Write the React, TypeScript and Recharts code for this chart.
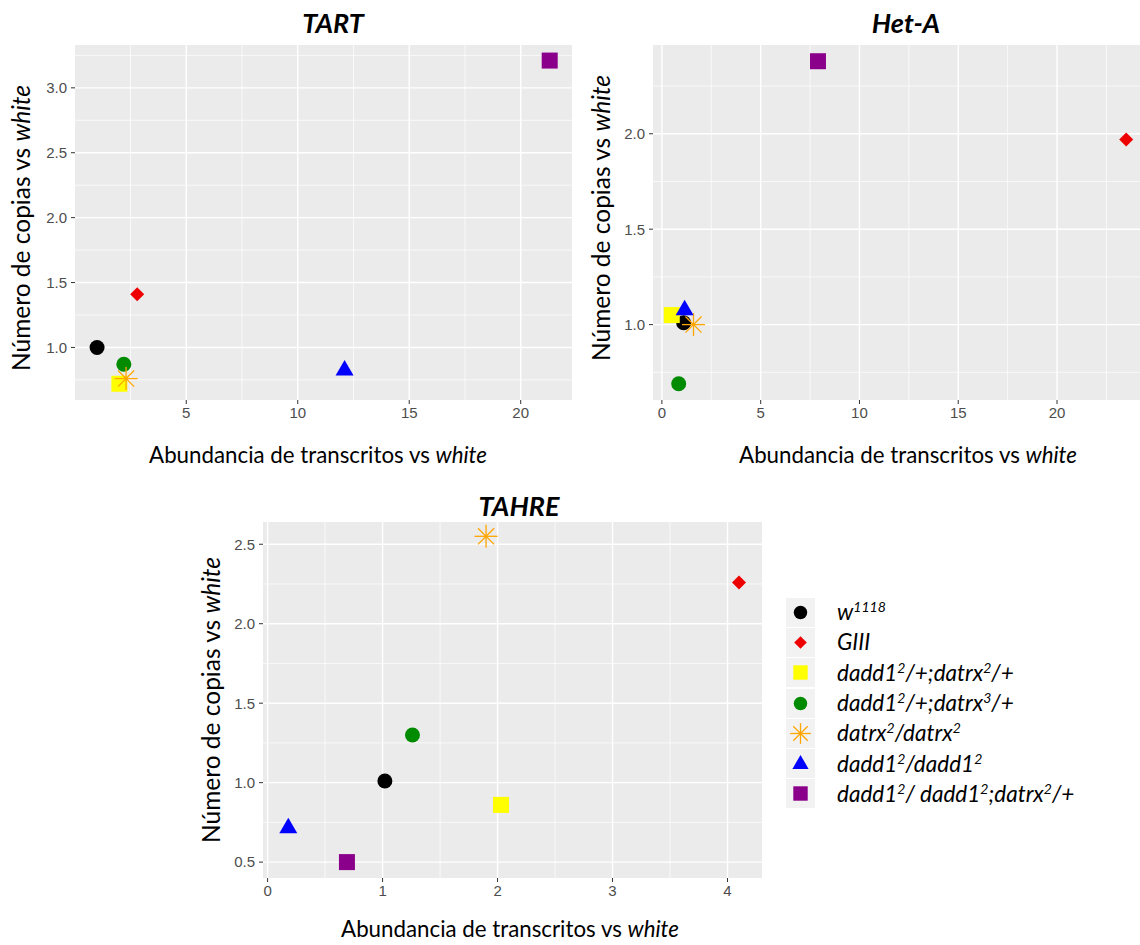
import { ScatterChart, Scatter, XAxis, YAxis, CartesianGrid } from "recharts";

// genotypes, in the order ggplot drew them
const genotypes = ["w1118", "GIII", "dadd1/+;datrx2/+", "dadd1/+;datrx3/+", "datrx2/datrx2", "dadd1/dadd1", "dadd1/dadd1;datrx2/+"];
const colors = ["#000000", "#EE0000", "#FFFF00", "#008B00", "#FFA500", "#0000FF", "#8B008B"];
const shapes = ["circle", "diamond", "square", "circle", "asterisk", "triangle", "square"];

// legend label pieces: [text, superscript]
const legendLabels: [string, boolean][][] = [
  [["w", false], ["1118", true]],
  [["GIII", false]],
  [["dadd1", false], ["2", true], ["/+;datrx", false], ["2", true], ["/+", false]],
  [["dadd1", false], ["2", true], ["/+;datrx", false], ["3", true], ["/+", false]],
  [["datrx", false], ["2", true], ["/datrx", false], ["2", true]],
  [["dadd1", false], ["2", true], ["/dadd1", false], ["2", true]],
  [["dadd1", false], ["2", true], ["/ dadd1", false], ["2", true], [";datrx", false], ["2", true], ["/+", false]],
];

// TART
const tartX = [1.0, 2.8, 2.0, 2.2, 2.3, 12.1, 21.3];
const tartY = [1.0, 1.41, 0.72, 0.87, 0.76, 0.83, 3.21];
const tartXTicks = [5, 10, 15, 20];
const tartXMinor = [2.5, 7.5, 12.5, 17.5];
const tartYTicks = [1.0, 1.5, 2.0, 2.5, 3.0];
const tartYMinor = [0.75, 1.25, 1.75, 2.25, 2.75, 3.25];

// Het-A
const hetX = [1.1, 23.5, 0.5, 0.85, 1.6, 1.15, 7.9];
const hetY = [1.01, 1.97, 1.05, 0.69, 1.0, 1.08, 2.38];
const hetXTicks = [0, 5, 10, 15, 20];
const hetXMinor = [2.5, 7.5, 12.5, 17.5, 22.5];
const hetYTicks = [1.0, 1.5, 2.0];
const hetYMinor = [0.75, 1.25, 1.75, 2.25];

// TAHRE
const tahreX = [1.02, 4.1, 2.03, 1.26, 1.9, 0.18, 0.69];
const tahreY = [1.01, 2.26, 0.86, 1.3, 2.55, 0.72, 0.5];
const tahreXTicks = [0, 1, 2, 3, 4];
const tahreXMinor = [0.5, 1.5, 2.5, 3.5];
const tahreYTicks = [0.5, 1.0, 1.5, 2.0, 2.5];
const tahreYMinor = [0.75, 1.25, 1.75, 2.25];

const LABEL_FONT = "Lato, 'Open Sans', sans-serif";
const TICK_STYLE = { fill: "#4D4D4D", fontSize: 15, fontFamily: "'Liberation Sans', Arial, sans-serif" };

function Marker({ kind, color, cx, cy, s = 1 }: { kind: string; color: string; cx: number; cy: number; s?: number }) {
  if (kind === "circle") return <circle cx={cx} cy={cy} r={7.5 * s} fill={color} />;
  if (kind === "square") {
    const h = 8 * s;
    return <rect x={cx - h} y={cy - h} width={2 * h} height={2 * h} fill={color} />;
  }
  if (kind === "diamond") {
    const h = 7 * s;
    return <polygon points={`${cx},${cy - h} ${cx + h},${cy} ${cx},${cy + h} ${cx - h},${cy}`} fill={color} />;
  }
  if (kind === "triangle") {
    const w = 9 * s;
    return <polygon points={`${cx},${cy - 9.5 * s} ${cx + w},${cy + 6 * s} ${cx - w},${cy + 6 * s}`} fill={color} />;
  }
  // asterisk: + and x
  const r = 11.5 * s;
  const d = r * 0.7;
  return (
    <g stroke={color} strokeWidth={1.3}>
      <line x1={cx - r} y1={cy} x2={cx + r} y2={cy} />
      <line x1={cx} y1={cy - r} x2={cx} y2={cy + r} />
      <line x1={cx - d} y1={cy - d} x2={cx + d} y2={cy + d} />
      <line x1={cx - d} y1={cy + d} x2={cx + d} y2={cy - d} />
    </g>
  );
}

interface PanelProps {
  xs: number[];
  ys: number[];
  xDomain: [number, number];
  yDomain: [number, number];
  xTicks: number[];
  yTicks: number[];
  xMinor: number[];
  yMinor: number[];
  width: number;
  height: number;
  top: number;
  yAxisWidth: number;
}

function Panel(p: PanelProps) {
  return (
    <ScatterChart width={p.width} height={p.height} margin={{ top: p.top, right: 0, left: 0, bottom: 0 }}>
      <CartesianGrid fill="#EBEBEB" fillOpacity={1} stroke="#FFFFFF" strokeWidth={0.7} horizontalValues={p.yMinor} verticalValues={p.xMinor} />
      <CartesianGrid fill="none" stroke="#FFFFFF" strokeWidth={1.4} horizontalValues={p.yTicks} verticalValues={p.xTicks} />
      <XAxis type="number" dataKey="x" domain={p.xDomain} ticks={p.xTicks} interval={0} allowDataOverflow height={30}
        axisLine={false} tickSize={4} tickMargin={3} tickLine={{ stroke: "#333333" }} tick={TICK_STYLE} />
      <YAxis type="number" dataKey="y" domain={p.yDomain} ticks={p.yTicks} interval={0} allowDataOverflow width={p.yAxisWidth}
        axisLine={false} tickSize={4} tickMargin={4} tickLine={{ stroke: "#333333" }} tick={TICK_STYLE} tickFormatter={(v: number) => v.toFixed(1)} />
      {genotypes.map((g, i) => (
        <Scatter key={g} name={g} data={[{ x: p.xs[i], y: p.ys[i] }]} isAnimationActive={false}
          shape={(props: any) => <Marker kind={shapes[i]} color={colors[i]} cx={props.cx} cy={props.cy} />} />
      ))}
    </ScatterChart>
  );
}

function Title({ text, x, y }: { text: string; x: number; y: number }) {
  return (
    <div style={{ position: "absolute", left: x, top: y, transform: "translate(-50%, -50%)", fontFamily: LABEL_FONT, fontWeight: 700, fontStyle: "italic", fontSize: 27, whiteSpace: "nowrap" }}>
      {text}
    </div>
  );
}

function XLabel({ x, y }: { x: number; y: number }) {
  return (
    <div style={{ position: "absolute", left: x, top: y, transform: "translate(-50%, -50%)", fontFamily: LABEL_FONT, fontSize: 22.3, lineHeight: "26px", whiteSpace: "nowrap" }}>
      Abundancia de transcritos vs <i>white</i>
    </div>
  );
}

function YLabel({ x, y }: { x: number; y: number }) {
  return (
    <div style={{ position: "absolute", left: x, top: y, transform: "translate(-50%, -50%) rotate(-90deg)", fontFamily: LABEL_FONT, fontSize: 24.5, whiteSpace: "nowrap" }}>
      Número de copias vs <i>white</i>
    </div>
  );
}

function LegendBox() {
  return (
    <div style={{ position: "absolute", left: 786, top: 597 }}>
      {genotypes.map((g, i) => (
        <div key={g} style={{ display: "flex", alignItems: "center", height: 30.3 }}>
          <svg width={29} height={29} style={{ display: "block" }}>
            <rect x={0} y={0} width={29} height={29} fill="#F2F2F2" />
            <Marker kind={shapes[i]} color={colors[i]} cx={14.5} cy={14.5} s={0.9} />
          </svg>
          <span style={{ marginLeft: 22, fontFamily: LABEL_FONT, fontStyle: "italic", fontSize: 22.5, lineHeight: "26px", whiteSpace: "nowrap" }}>
            {legendLabels[i].map(([t, sup], k) => (sup ? <sup key={k} style={{ fontSize: 14, lineHeight: 0 }}>{t}</sup> : <span key={k}>{t}</span>))}
          </span>
        </div>
      ))}
    </div>
  );
}

export default function App() {
  return (
    <div style={{ position: "absolute", left: 0, top: 0, width: 1140, height: 945, background: "#FFFFFF", overflow: "hidden" }}>
      <div style={{ position: "absolute", left: 0, top: 0 }}>
        <Panel xs={tartX} ys={tartY} xDomain={[0.01, 22.3]} yDomain={[0.595, 3.33]} xTicks={tartXTicks} yTicks={tartYTicks}
          xMinor={tartXMinor} yMinor={tartYMinor} width={572} height={430} top={45} yAxisWidth={75} />
      </div>
      <div style={{ position: "absolute", left: 580, top: 0 }}>
        <Panel xs={hetX} ys={hetY} xDomain={[-0.45, 24.2]} yDomain={[0.605, 2.465]} xTicks={hetXTicks} yTicks={hetYTicks}
          xMinor={hetXMinor} yMinor={hetYMinor} width={560} height={430} top={45} yAxisWidth={73} />
      </div>
      <div style={{ position: "absolute", left: 190, top: 480 }}>
        <Panel xs={tahreX} ys={tahreY} xDomain={[-0.04, 4.3]} yDomain={[0.4, 2.64]} xTicks={tahreXTicks} yTicks={tahreYTicks}
          xMinor={tahreXMinor} yMinor={tahreYMinor} width={572} height={428} top={42} yAxisWidth={73} />
      </div>
      <Title text="TART" x={333} y={22} />
      <Title text="Het-A" x={906} y={22} />
      <Title text="TAHRE" x={519} y={505} />
      <XLabel x={318} y={455} />
      <XLabel x={908} y={455} />
      <XLabel x={510} y={929} />
      <YLabel x={20} y={228} />
      <YLabel x={600} y={218} />
      <YLabel x={210} y={700} />
      <LegendBox />
    </div>
  );
}
